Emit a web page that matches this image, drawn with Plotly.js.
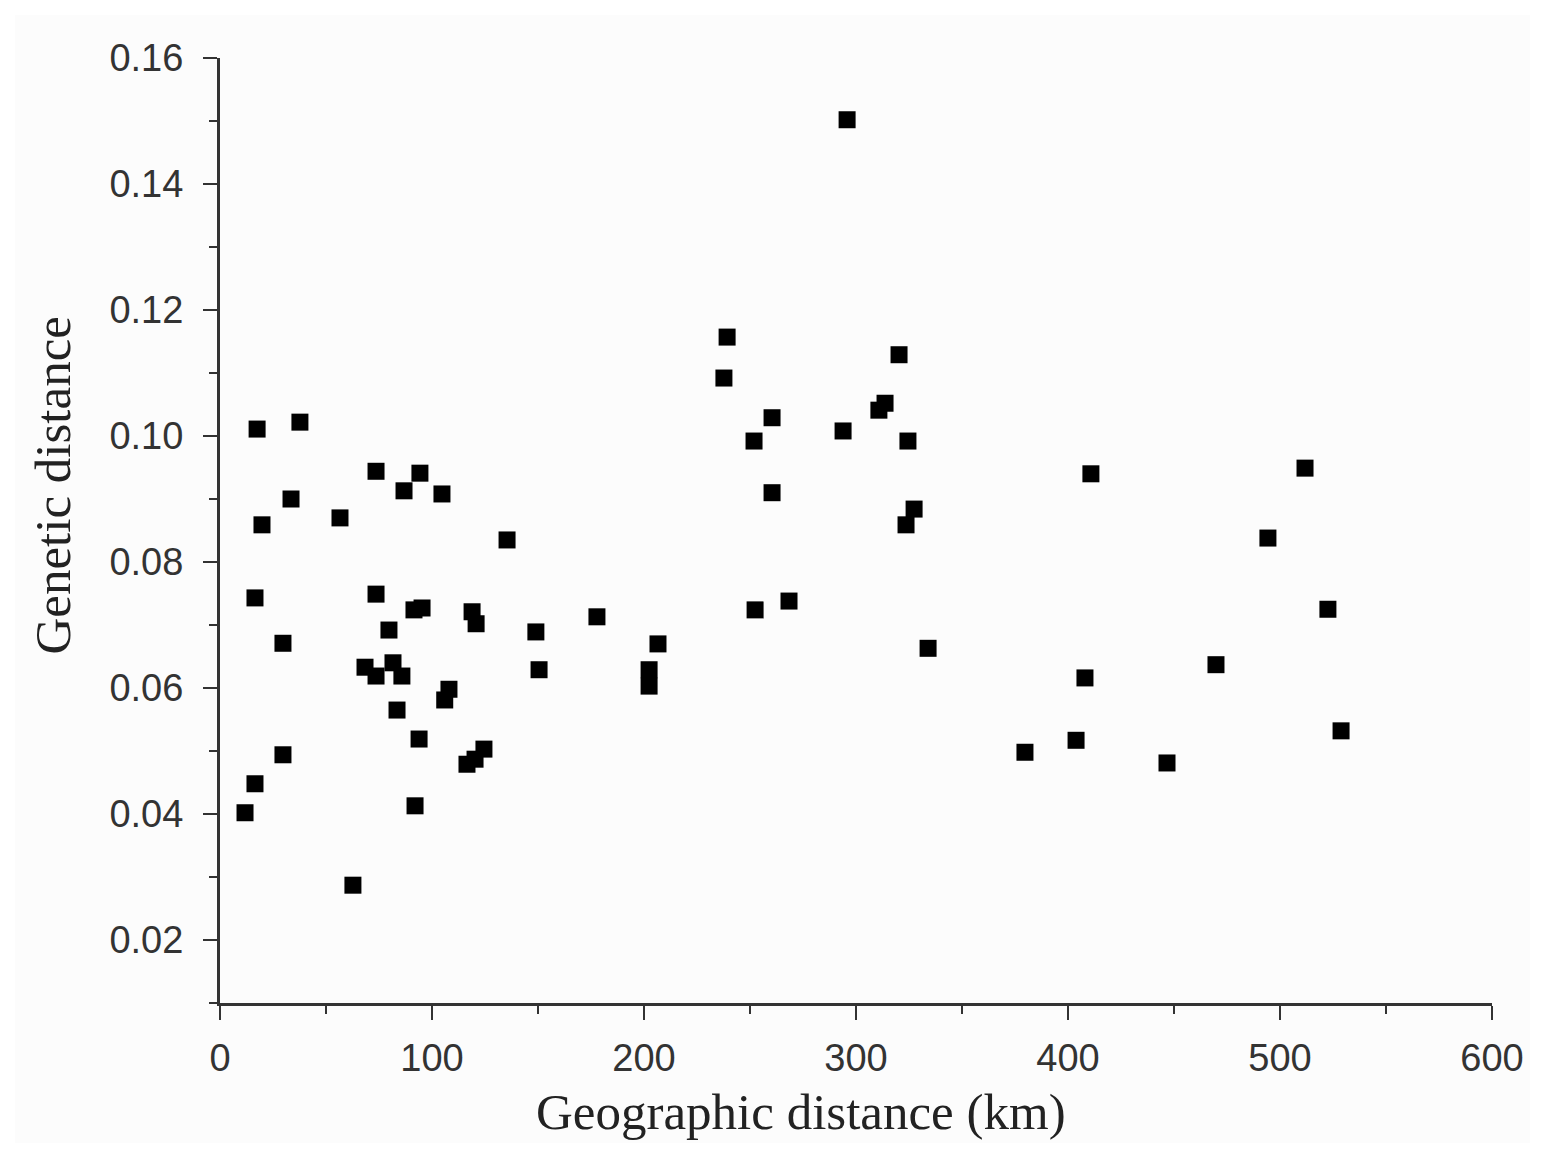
<!DOCTYPE html>
<html>
<head>
<meta charset="utf-8">
<script src="https://cdn.plot.ly/plotly-3.0.1.min.js"></script>
<style>
  html, body { margin: 0; padding: 0; background: #ffffff; width: 1553px; height: 1166px; overflow: hidden; }
  #chart { position: absolute; left: 15px; top: 15px; width: 1515px; height: 1128px; }
</style>
</head>
<body>
<div id="chart"></div>
<script>
// Geographic distance (km)
const geoDist = [
  11.8, 16.5, 16.5, 17.5, 19.8, 29.7, 29.7, 33.5, 37.7, 56.6,
  62.7, 68.4, 73.6, 73.6, 73.6, 79.7, 81.6, 83.5, 85.8, 86.8,
  91.5, 92.0, 93.9, 94.3, 95.3, 104.7, 106.0, 108.0, 116.5, 118.9,
  120.3, 120.8, 124.5, 135.4, 149.0, 150.5, 177.8, 202.4, 202.4, 206.6,
  237.7, 239.2, 251.9, 252.4, 260.4, 260.4, 268.4, 293.9, 295.8, 310.8,
  313.7, 320.3, 324.5, 323.6, 327.4, 334.0, 379.7, 403.8, 408.0, 410.8,
  446.7, 469.8, 494.3, 511.8, 522.6, 528.8
];
// Genetic distance
const genDist = [
  0.0402, 0.0448, 0.0743, 0.1011, 0.0859, 0.0494, 0.0671, 0.0900, 0.1022, 0.0870,
  0.0287, 0.0633, 0.0619, 0.0749, 0.0944, 0.0692, 0.0640, 0.0565, 0.0619, 0.0913,
  0.0724, 0.0413, 0.0519, 0.0941, 0.0727, 0.0908, 0.0581, 0.0598, 0.0479, 0.0721,
  0.0487, 0.0702, 0.0503, 0.0835, 0.0689, 0.0629, 0.0713, 0.0629, 0.0603, 0.0670,
  0.1092, 0.1157, 0.0992, 0.0724, 0.1029, 0.0910, 0.0738, 0.1008, 0.1502, 0.1041,
  0.1052, 0.1129, 0.0992, 0.0859, 0.0884, 0.0663, 0.0498, 0.0517, 0.0616, 0.0940,
  0.0481, 0.0637, 0.0838, 0.0949, 0.0725, 0.0532
];
const xTitle = 'Geographic distance (km)';
const yTitle = 'Genetic distance';

const tickFont = { family: '"Liberation Sans", Arial, sans-serif', size: 38, color: '#333333' };
const titleFont = { family: '"Liberation Serif", "Times New Roman", serif', size: 51, color: '#222222' };

const trace = {
  x: geoDist,
  y: genDist,
  type: 'scatter',
  mode: 'markers',
  marker: { symbol: 'square', size: 17, color: '#000000', line: { width: 0 } },
  showlegend: false,
  hoverinfo: 'x+y'
};

const layout = {
  width: 1515,
  height: 1128,
  margin: { l: 205, r: 38, t: 43, b: 140, pad: 0 },
  paper_bgcolor: '#fcfcfc',
  plot_bgcolor: '#fcfcfc',
  showlegend: false,
  xaxis: {
    range: [0, 600],
    tick0: 0, dtick: 100,
    showgrid: false, zeroline: false,
    showline: true, linecolor: '#333333', linewidth: 3,
    ticks: 'outside', ticklen: 14, tickwidth: 2.5, tickcolor: '#333333',
    ticklabelstandoff: 5,
    tickfont: tickFont,
    minor: { dtick: 50, ticks: 'outside', ticklen: 8, tickwidth: 2, tickcolor: '#333333', showgrid: false },
    fixedrange: true
  },
  yaxis: {
    range: [0.01, 0.16],
    tick0: 0, dtick: 0.02,
    tickformat: '.2f',
    showgrid: false, zeroline: false,
    showline: true, linecolor: '#333333', linewidth: 3,
    ticks: 'outside', ticklen: 14, tickwidth: 2.5, tickcolor: '#333333',
    ticklabelstandoff: 12,
    tickfont: tickFont,
    minor: { dtick: 0.01, ticks: 'outside', ticklen: 8, tickwidth: 2, tickcolor: '#333333', showgrid: false },
    fixedrange: true
  },
  annotations: [
    {
      text: xTitle, xref: 'paper', yref: 'paper',
      x: 0.457, y: -0.115, xanchor: 'center', yanchor: 'middle',
      showarrow: false, font: titleFont
    },
    {
      text: yTitle, xref: 'paper', yref: 'paper',
      x: -0.131, y: 0.548, xanchor: 'center', yanchor: 'middle',
      textangle: -90, showarrow: false, font: titleFont
    }
  ]
};

Plotly.newPlot('chart', [trace], layout, { displayModeBar: false, staticPlot: true });
</script>
</body>
</html>
